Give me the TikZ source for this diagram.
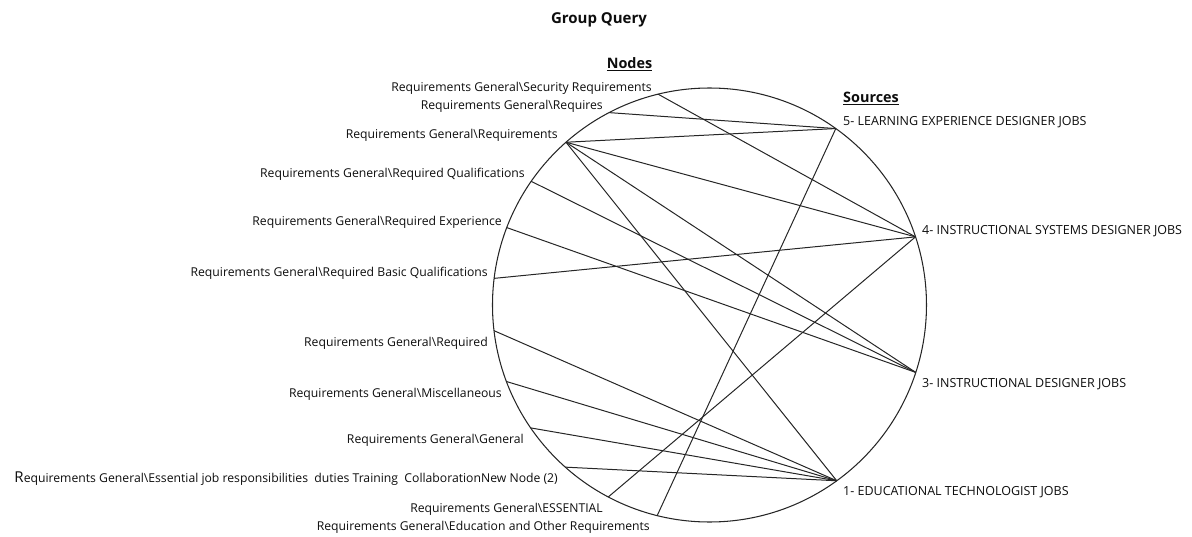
\documentclass[tikz,border=0pt]{standalone}
\usepackage{fontspec}
\setmainfont{Open Sans}
\begin{document}
\begin{tikzpicture}[x=1pt,y=1pt,
  lbl/.style={font=\fontsize{12.2}{14}\selectfont, inner sep=0pt, text=black!95},
  nodelbl/.style={lbl, anchor=base east},
  srclbl/.style={lbl, font=\fontsize{12.5}{14}\selectfont, anchor=base west},
  hdr/.style={font=\fontsize{14.4}{16}\selectfont\bfseries, inner sep=0pt, text=black!95},
  link/.style={line width=1pt, draw=black!85},
  ring/.style={line width=1.05pt, draw=black!85}]
\useasboundingbox (-709.5,-231) rectangle (482.5,305);
% circle
\draw[ring] (0,0) circle (217);
% points on the circle
\coordinate (n1) at (103.7:217);
\coordinate (n2) at (117.55:217);
\coordinate (n3) at (131.4:217);
\coordinate (n4) at (145.25:217);
\coordinate (n5) at (159.1:217);
\coordinate (n6) at (172.95:217);
\coordinate (n7) at (186.8:217);
\coordinate (n8) at (200.65:217);
\coordinate (n9) at (214.5:217);
\coordinate (n10) at (228.35:217);
\coordinate (n11) at (242.2:217);
\coordinate (n12) at (256.05:217);
\coordinate (s5) at (54.4:217);
\coordinate (s4) at (18.3:217);
\coordinate (s3) at (-18.1:217);
\coordinate (s1) at (-54.1:217);
% headings
\node[hdr, font=\fontsize{15}{17}\selectfont\bfseries] (title) at (-110.5,285) {Group Query};
\node[hdr, anchor=base] (nodeshdr) at (-80,236) {\underline{Nodes}};
\node[hdr, anchor=base west] (srchdr) at (133.5,202) {\underline{Sources}};
% node labels
\node[nodelbl] (l1) at (-57.5,213.5) {Requirements General\textbackslash Security Requirements};
\node[nodelbl] (l2) at (-106.5,195.5) {Requirements General\textbackslash Requires};
\node[nodelbl] (l3) at (-151.5,166.5) {Requirements General\textbackslash Requirements};
\node[nodelbl] (l4) at (-184.5,127.5) {Requirements General\textbackslash Required Qualifications};
\node[nodelbl] (l5) at (-207.5,79.5) {Requirements General\textbackslash Required Experience};
\node[nodelbl] (l6) at (-221.5,28.5) {Requirements General\textbackslash Required Basic Qualifications};
\node[nodelbl] (l7) at (-221.5,-41.5) {Requirements General\textbackslash Required};
\node[nodelbl] (l8) at (-207.5,-92.5) {Requirements General\textbackslash Miscellaneous};
\node[nodelbl] (l9) at (-185.5,-138.5) {Requirements General\textbackslash General};
\node[nodelbl] (l10) at (-151.5,-177.5) {{\fontsize{15}{15}\selectfont R}equirements General\textbackslash Essential job responsibilities\ \ duties Training\ \ CollaborationNew Node (2)};
\node[nodelbl] (l11) at (-106.5,-207.5) {Requirements General\textbackslash ESSENTIAL};
\node[nodelbl] (l12) at (-59.5,-225.5) {Requirements General\textbackslash Education and Other Requirements};
% source labels
\node[srclbl] (r5) at (133.5,179.5) {5- LEARNING EXPERIENCE DESIGNER JOBS};
\node[srclbl] (r4) at (212.5,70.5) {4- INSTRUCTIONAL SYSTEMS DESIGNER JOBS};
\node[srclbl] (r3) at (212.5,-82.5) {3- INSTRUCTIONAL DESIGNER JOBS};
\node[srclbl] (r1) at (133.5,-190.5) {1- EDUCATIONAL TECHNOLOGIST JOBS};
% connectors
\draw[link] (n2) -- (s5);
\draw[link] (n3) -- (s5);
\draw[link] (n12) -- (s5);
\draw[link] (n1) -- (s4);
\draw[link] (n3) -- (s4);
\draw[link] (n6) -- (s4);
\draw[link] (n11) -- (s4);
\draw[link] (n3) -- (s3);
\draw[link] (n4) -- (s3);
\draw[link] (n5) -- (s3);
\draw[link] (n3) -- (s1);
\draw[link] (n7) -- (s1);
\draw[link] (n8) -- (s1);
\draw[link] (n9) -- (s1);
\draw[link] (n10) -- (s1);
\end{tikzpicture}
\end{document}
